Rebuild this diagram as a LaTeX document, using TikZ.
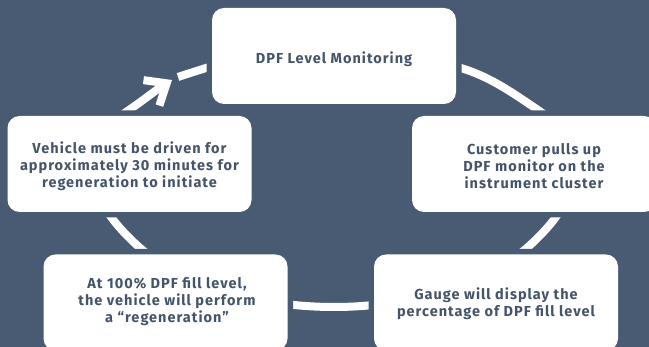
\documentclass[tikz,border=0pt]{standalone}
\usepackage{fontspec}
\setmainfont{Fira Sans}[LetterSpace=7]
\usetikzlibrary{arrows.meta}
\definecolor{bg}{RGB}{72,91,115}
\definecolor{ink}{RGB}{68,84,106}
\begin{document}
\begin{tikzpicture}[x=1pt,y=-1pt,
  box/.style={rectangle, rounded corners=12pt, fill=white,
    preaction={draw=bg, line width=11pt},
    minimum width=244pt, minimum height=96pt, inner sep=0pt},
  lbl/.style={inner sep=0pt, align=center, text=ink,
    font=\bfseries\fontsize{14.5}{17}\selectfont},
  loopline/.style={draw=white, line width=8pt}]
\fill[bg] (0,0) rectangle (649,347);
\useasboundingbox (0,0) rectangle (649,347);
\coordinate (gapstart) at (178,77);
\coordinate (tip) at (172,80);
\draw[loopline, -{Straight Barb[length=18pt,width=30pt]}] (gapstart)
  .. controls (190,73) and (198,70.5) .. (206,68)
  .. controls (247,55) and (287,50) .. (334,50)
  .. controls (380,50) and (420,55) .. (461,68)
  .. controls (490,77) and (510,91) .. (538,110)
  .. controls (560,125) and (575,138) .. (575,165)
  .. controls (575,195) and (556,222) .. (528,247)
  .. controls (500,272) and (430,307) .. (334,307)
  .. controls (237,307) and (167,272) .. (139,247)
  .. controls (111,222) and (92,195) .. (92,165)
  .. controls (92,138) and (107,125) .. (129,110)
  .. controls (145,99) and (156,90) .. (tip);
\node[box] (mon) at (334,56) {};
\node[box] (cust) at (534,164) {};
\node[box] (gauge) at (496,302.5) {};
\node[box] (regen) at (165.5,302.5) {};
\node[box] (drive) at (129.5,164) {};
\node[lbl] (monT) at (334,59.5) {DPF Level Monitoring};
\node[lbl] (custT) at (534,166.5) {Customer pulls up\\DPF monitor on the\\instrument cluster};
\node[lbl] (gaugeT) at (496,303.5) {Gauge will display the\\percentage of DPF fill level};
\node[lbl] (regenT) at (167,301.5) {At 100\% DPF fill level,\\the vehicle will perform\\a “regeneration”};
\node[lbl] (driveT) at (129.5,166.5) {Vehicle must be driven for\\approximately 30 minutes for\\regeneration to initiate};
\end{tikzpicture}
\end{document}
